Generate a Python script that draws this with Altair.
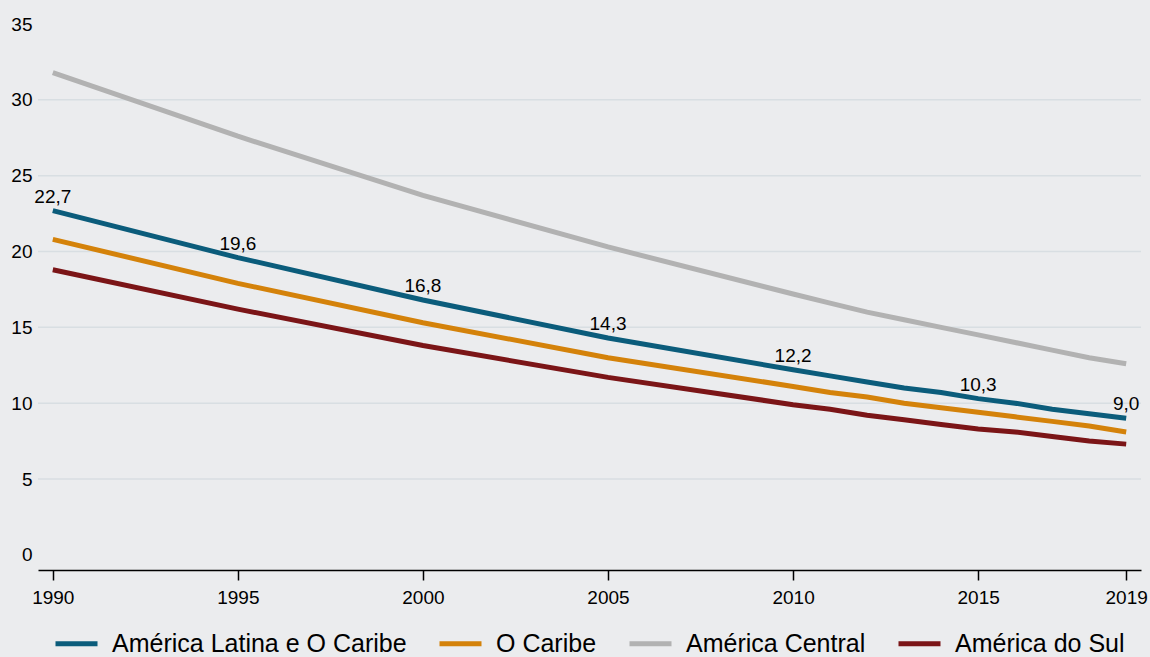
import altair as alt
import pandas as pd

# Annual series (5-year steps until 2010, yearly afterwards)
years = [1990, 1995, 2000, 2005, 2010, 2011, 2012, 2013, 2014, 2015, 2016, 2017, 2018, 2019]
latam = [22.7, 19.6, 16.8, 14.3, 12.2, 11.8, 11.4, 11.0, 10.7, 10.3, 10.0, 9.6, 9.3, 9.0]
caribe = [20.8, 17.9, 15.3, 13.0, 11.1, 10.7, 10.4, 10.0, 9.7, 9.4, 9.1, 8.8, 8.5, 8.1]
central = [31.8, 27.6, 23.7, 20.3, 17.2, 16.6, 16.0, 15.5, 15.0, 14.5, 14.0, 13.5, 13.0, 12.6]
sul = [18.8, 16.2, 13.8, 11.7, 9.9, 9.6, 9.2, 8.9, 8.6, 8.3, 8.1, 7.8, 7.5, 7.3]

series_names = ["América Latina e O Caribe", "O Caribe", "América Central", "América do Sul"]
series_colors = ["#0b5c7b", "#d4820a", "#b2b2b2", "#7b1517"]

label_years = [1990, 1995, 2000, 2005, 2010, 2015, 2019]
x_ticks = [1990, 1995, 2000, 2005, 2010, 2015, 2019]
y_ticks = [0, 5, 10, 15, 20, 25, 30, 35]
grid_values = [5, 10, 15, 20, 25, 30]

FONT = "Liberation Sans"

rows = []
for name, vals in zip(series_names, [latam, caribe, central, sul]):
    for yr, v in zip(years, vals):
        rows.append({"year": yr, "value": v, "series": name})
df = pd.DataFrame(rows)

labels = pd.DataFrame(
    [{"year": yr, "value": v, "label": f"{v:.1f}".replace(".", ",")}
     for yr, v in zip(years, latam) if yr in label_years]
)
grid = pd.DataFrame({"value": grid_values})

x_enc = alt.X(
    "year:Q",
    scale=alt.Scale(domain=[1989.6, 2019.4], nice=False, zero=False),
    axis=alt.Axis(
        values=x_ticks, format="d", title=None, grid=False,
        domainColor="black", domainWidth=1.5,
        tickColor="black", tickWidth=1.5, tickSize=10,
        labelFont=FONT, labelFontSize=19, labelColor="black",
        labelPadding=8, labelFlush=False, labelOverlap=False,
    ),
)
y_enc = alt.Y(
    "value:Q",
    scale=alt.Scale(domain=[-1, 35], nice=False, zero=False),
    axis=alt.Axis(
        values=y_ticks, title=None, grid=False, domain=False, ticks=False,
        labelFont=FONT, labelFontSize=19, labelColor="black",
        labelPadding=6, labelOverlap=False,
    ),
)

gridlines = alt.Chart(grid).mark_rule(color="#d8dee2", strokeWidth=1.5).encode(y=y_enc)

lines = alt.Chart(df).mark_line(strokeWidth=5).encode(
    x=x_enc,
    y=y_enc,
    color=alt.Color(
        "series:N",
        sort=series_names,
        scale=alt.Scale(domain=series_names, range=series_colors),
        legend=alt.Legend(
            orient="none", legendX=15, legendY=596, direction="horizontal",
            title=None, padding=0,
            symbolType="stroke", symbolSize=1764, symbolStrokeWidth=5,
            symbolOpacity=1,
            labelFont=FONT, labelFontSize=25, labelColor="black",
            labelOffset=12, columnPadding=22, labelLimit=0,
        ),
    ),
    detail="series:N",
)

text = alt.Chart(labels).mark_text(
    baseline="alphabetic", dy=-8, fontSize=19, font=FONT, color="black"
).encode(x=x_enc, y=y_enc, text="label:N")

chart = (
    alt.layer(gridlines, lines, text)
    .properties(
        width=1103,
        height=546,
        background="#ebecee",
        padding={"left": 38, "top": 24, "right": 9, "bottom": 87},
        autosize=alt.AutoSizeParams(type="none"),
    )
    .configure_view(stroke=None)
)

chart.save("out.html", embed_options={"renderer": "svg", "actions": False})
